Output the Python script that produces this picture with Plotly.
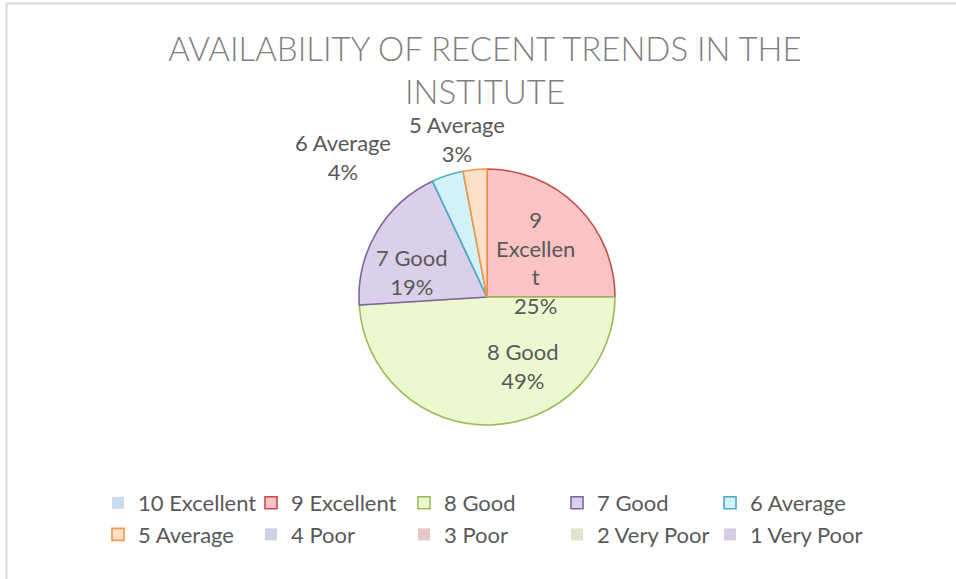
import plotly.graph_objects as go

W, H = 956, 579
MR = 100            # right margin (keeps legend to 5 entries per row)
PW = W - MR         # plot-area width in pixels

categories = ["10 Excellent", "9 Excellent", "8 Good", "7 Good", "6 Average",
              "5 Average", "4 Poor", "3 Poor", "2 Very Poor", "1 Very Poor"]
values = [0, 25, 49, 19, 4, 3, 0, 0, 0, 0]

fill_colors = ["#c9daf2", "#fbc3c3", "#ecf8d0", "#dbd0ea", "#d2f1f9",
               "#fde0c9", "#c9d3e2", "#e5c8c8", "#dde6cb", "#d5cde0"]
line_colors = ["#4f81bd", "#c0504d", "#9bbb59", "#8064a2", "#4bacc6",
               "#f79646", "#2c4d75", "#772c2a", "#5f7530", "#4d3b62"]
line_widths = [1.6 if v > 0 else 0 for v in values]

FONT = "Lato"

# pie placement (pixels)
cx, cy, r = 487, 297, 128


def px_x(p):
    return p / PW


def px_y(p):
    return 1 - p / H


fig = go.Figure()
fig.add_trace(go.Pie(
    labels=categories,
    values=values,
    sort=False,
    direction="clockwise",
    rotation=0,
    marker=dict(colors=fill_colors, line=dict(color=line_colors, width=line_widths)),
    textinfo="none",
    hoverinfo="label+percent",
    domain=dict(x=[px_x(cx - r), px_x(cx + r)], y=[px_y(cy + r), px_y(cy - r)]),
    showlegend=True,
))

# data label text positions (pixels), label text built from data
label_pos = {
    "9 Excellent": (535, 262),
    "8 Good": (523, 366),
    "7 Good": (412, 272),
    "6 Average": (343, 157),
    "5 Average": (457, 139),
}
total = sum(values)
for cat, v in zip(categories, values):
    if cat not in label_pos:
        continue
    px, py = label_pos[cat]
    name = "9<br>Excellen<br>t" if cat == "9 Excellent" else cat
    fig.add_annotation(
        x=px_x(px), y=px_y(py), xref="paper", yref="paper",
        xanchor="center", yanchor="middle",
        text=f"{name}<br>{round(100 * v / total)}%",
        showarrow=False, align="center",
        font=dict(family=FONT, size=22, color="#595959"),
    )

# chart border
fig.add_shape(type="rect", xref="paper", yref="paper",
              x0=px_x(6.5), x1=px_x(W + 20), y0=-0.2, y1=px_y(3.5),
              line=dict(color="#d9d9d9", width=2), fillcolor="rgba(0,0,0,0)")

fig.update_layout(
    width=W, height=H,
    margin=dict(l=0, r=MR, t=0, b=0, autoexpand=False),
    paper_bgcolor="white", plot_bgcolor="white",
    title=dict(
        text="AVAILABILITY OF RECENT TRENDS IN THE<br>INSTITUTE",
        xref="container", yref="container",
        x=485 / W, xanchor="center", y=1 - 61 / H, yanchor="top",
        font=dict(family=FONT, size=33, color="#7f7f7f", weight=300),
    ),
    legend=dict(
        orientation="h", xref="container", yref="container",
        x=98 / W, xanchor="left", y=1 - 482 / H, yanchor="top",
        entrywidth=108, entrywidthmode="pixels",
        font=dict(family=FONT, size=22, color="#595959"),
        itemwidth=30, bgcolor="rgba(0,0,0,0)",
    ),
)

fig.write_html("out.html", config={"displayModeBar": False},
               post_script="document.body.style.margin='0';")
